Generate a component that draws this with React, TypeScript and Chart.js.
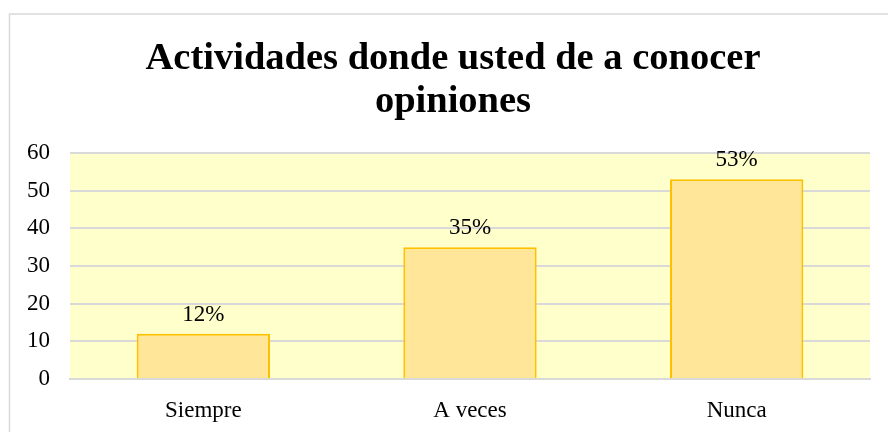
import React, { useEffect, useRef } from "react";
import { Chart, registerables } from "chart.js";

Chart.register(...registerables);

const titleLines = ["Actividades donde usted de a conocer", "opiniones"];
const categories = ["Siempre", "A veces", "Nunca"];
const values = [12, 35, 53];
const valueLabels = ["12%", "35%", "53%"];
const yTicks = [0, 10, 20, 30, 40, 50, 60];

const SERIF = "'Liberation Serif', 'Times New Roman', serif";

const plotBg = {
  id: "plotBg",
  beforeDraw(chart: any) {
    const { ctx, chartArea } = chart;
    ctx.save();
    ctx.fillStyle = "#ffffcc";
    ctx.fillRect(chartArea.left, chartArea.top, chartArea.right - chartArea.left, chartArea.bottom - chartArea.top);
    ctx.strokeStyle = "#d9d9d9";
    ctx.lineWidth = 1.5;
    ctx.strokeRect(9.5, 14, chart.width + 20, chart.height + 20);
    ctx.restore();
  },
};

const titlePlugin = {
  id: "titleText",
  afterDraw(chart: any) {
    const { ctx } = chart;
    ctx.save();
    ctx.font = `bold 38.5px ${SERIF}`;
    ctx.fillStyle = "#000";
    ctx.textAlign = "center";
    ctx.textBaseline = "alphabetic";
    titleLines.forEach((line, i) => {
      ctx.fillText(line, 453, 69 + i * 43);
    });
    ctx.restore();
  },
};

const barLabels = {
  id: "barLabels",
  afterDatasetsDraw(chart: any) {
    const { ctx } = chart;
    const meta = chart.getDatasetMeta(0);
    ctx.save();
    ctx.font = `23px ${SERIF}`;
    ctx.fillStyle = "#000";
    ctx.textAlign = "center";
    ctx.textBaseline = "alphabetic";
    meta.data.forEach((bar: any, i: number) => {
      ctx.fillText(valueLabels[i], bar.x, bar.y - 13);
    });
    ctx.restore();
  },
};

export default function App() {
  const ref = useRef<HTMLCanvasElement | null>(null);
  useEffect(() => {
    document.body.style.margin = "0";
    const chart = new Chart(ref.current as HTMLCanvasElement, {
      type: "bar",
      data: {
        labels: categories,
        datasets: [
          {
            data: values,
            backgroundColor: "#ffe699",
            borderColor: "#ffc000",
            borderWidth: 2,
            categoryPercentage: 1,
            barPercentage: 0.5,
          },
        ],
      },
      options: {
        animation: false,
        responsive: false,
        layout: { padding: { left: 0, right: 18, top: 153, bottom: 0 } },
        plugins: {
          legend: { display: false },
          tooltip: { enabled: false },
          title: { display: false },
        },
        scales: {
          x: {
            grid: { display: false, drawTicks: false },
            border: { display: true, color: "#d9d9d9", width: 2 },
            ticks: { color: "#000", font: { family: SERIF, size: 23 }, padding: 18 },
            afterFit(scale: any) {
              scale.height = 53;
            },
          },
          y: {
            min: 0,
            max: 60,
            afterBuildTicks(scale: any) {
              scale.ticks = yTicks.map((v) => ({ value: v }));
            },
            grid: { color: "#d9d9d9", lineWidth: 2, drawTicks: false },
            border: { display: false },
            ticks: { color: "#000", font: { family: SERIF, size: 23 }, padding: 20 },
            afterFit(scale: any) {
              scale.width = 70;
            },
          },
        },
      },
      plugins: [plotBg, barLabels, titlePlugin],
    });
    return () => chart.destroy();
  }, []);
  return (
    <div style={{ position: "absolute", left: 0, top: 0, width: 888, height: 432, background: "#fff" }}>
      <canvas ref={ref} width={888} height={432} style={{ display: "block" }} />
    </div>
  );
}
